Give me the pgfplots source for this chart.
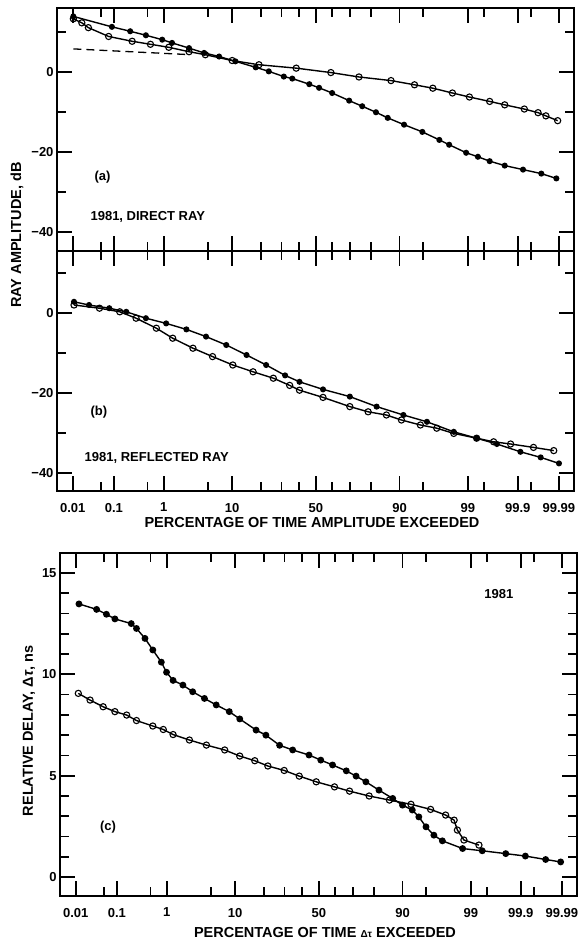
\documentclass[border=0pt]{standalone}
\usepackage{pgfplots}
\pgfplotsset{compat=1.18}
\usepackage{pgfplotstable}
\usepackage{fontspec}
\setmainfont{Liberation Sans}

\newcommand\tickfont{\fontsize{13bp}{15bp}\selectfont\bfseries}
\newcommand\annfont{\fontsize{13bp}{15bp}\selectfont\bfseries}
\newcommand\labfont{\fontsize{14.5bp}{17bp}\selectfont\bfseries}

\pgfplotstableread{
x y
-3.71 13.8
-3.12 11.2
-2.84 10.1
-2.60 9.1
-2.35 8.0
-2.20 7.2
-1.94 5.9
-1.71 4.7
-1.48 3.8
-1.23 2.6
-0.92 1.1
-0.72 0.1
-0.49 -1.2
-0.36 -1.7
-0.10 -3.1
0.05 -4.0
0.25 -5.3
0.51 -7.2
0.71 -8.6
0.92 -10.1
1.10 -11.5
1.35 -13.2
1.63 -15.0
1.89 -17.0
2.04 -18.2
2.30 -20.2
2.48 -21.2
2.66 -22.3
2.89 -23.4
3.17 -24.4
3.45 -25.4
3.68 -26.6
}\aFilled

\pgfplotstableread{
x y
-3.71 13.2
-3.58 12.2
-3.48 11.0
-3.17 8.8
-2.81 7.6
-2.53 6.85
-2.25 6.1
-1.94 5.0
-1.69 4.25
-1.28 2.8
-0.87 1.75
-0.30 0.9
0.23 -0.2
0.66 -1.3
1.15 -2.2
1.51 -3.25
1.79 -4.1
2.09 -5.3
2.35 -6.3
2.66 -7.4
2.89 -8.25
3.19 -9.3
3.40 -10.2
3.52 -11.0
3.70 -12.2
}\aOpen

\pgfplotstableread{
x y
-3.70 2.8
-3.47 2.0
-3.16 1.2
-2.90 0.3
-2.60 -1.3
-2.29 -2.6
-1.98 -4.1
-1.68 -5.9
-1.37 -8.0
-1.06 -10.5
-0.76 -13.0
-0.47 -15.6
-0.25 -17.2
0.11 -19.1
0.52 -20.9
0.93 -23.4
1.34 -25.5
1.70 -27.2
2.11 -29.7
2.46 -31.3
2.77 -32.75
3.13 -34.7
3.44 -36.1
3.72 -37.6
}\bFilled

\pgfplotstableread{
x y
-3.70 2.0
-3.31 1.2
-3.00 0.3
-2.75 -1.3
-2.44 -3.8
-2.19 -6.3
-1.88 -8.8
-1.58 -10.9
-1.27 -13.0
-0.96 -14.7
-0.65 -16.3
-0.40 -18.1
-0.25 -19.3
0.11 -21.1
0.52 -23.4
0.80 -24.7
1.08 -25.5
1.31 -26.75
1.60 -28.0
1.85 -28.8
2.11 -30.1
2.46 -31.3
2.72 -32.2
2.98 -32.75
3.33 -33.6
3.64 -34.4
}\bOpen

\pgfplotstableread{
x y
-3.67 13.47
-3.40 13.2
-3.25 12.96
-3.12 12.73
-2.87 12.5
-2.79 12.26
-2.66 11.77
-2.54 11.2
-2.41 10.6
-2.33 10.1
-2.23 9.7
-2.08 9.47
-1.93 9.14
-1.75 8.81
-1.57 8.49
-1.37 8.16
-1.21 7.8
-0.96 7.25
-0.81 7.0
-0.60 6.5
-0.40 6.27
-0.15 6.02
0.03 5.77
0.21 5.53
0.42 5.24
0.57 4.98
0.72 4.70
0.92 4.29
1.13 3.88
1.28 3.55
1.43 3.31
1.53 2.97
1.64 2.48
1.76 2.07
1.89 1.79
2.20 1.41
2.50 1.30
2.86 1.16
3.16 1.04
3.47 0.87
3.70 0.75
}\cFilled

\pgfplotstableread{
x y
-3.68 9.06
-3.50 8.73
-3.30 8.4
-3.12 8.16
-2.94 7.99
-2.79 7.72
-2.54 7.45
-2.38 7.28
-2.23 7.03
-1.98 6.76
-1.72 6.51
-1.44 6.27
-1.21 5.97
-0.98 5.74
-0.78 5.48
-0.53 5.26
-0.30 4.98
-0.04 4.70
0.24 4.45
0.47 4.24
0.77 4.0
1.08 3.80
1.41 3.59
1.71 3.34
1.94 3.06
2.07 2.81
2.12 2.32
2.22 1.83
2.45 1.58
}\cOpen

\pgfplotsset{
 panel/.style={
  scale only axis, width=517bp, anchor=north west,
  xmin=-3.96, xmax=3.95,
  xtick={-3.719,-3.090,-2.326,-1.2816,0,1.2816,2.326,3.090,3.719},
  minor xtick={-3.2905,-2.5758,-1.6449,-0.8416,-0.5244,-0.2533,0.2533,0.5244,0.8416,1.6449,2.5758,3.2905},
  xticklabels={0.01,0.1,1,10,50,90,99,99.9,99.99},
  major tick length=15bp, minor tick length=9bp,
  every tick/.style={line width=1.8bp, black},
  axis line style={line width=1.9bp},
  tick label style={font=\tickfont},
  xticklabel style={yshift=-8.5bp},
 },
 filled/.style={black, line width=1.4bp, mark=*, mark size=2.3bp},
 open/.style={black, line width=1.4bp, mark=o, mark size=3.1bp, mark options={fill=white, line width=1.1bp}},
}

\begin{document}
\begin{tikzpicture}
\useasboundingbox (0,0) rectangle (582bp,-943bp);

% (a)
\begin{axis}[panel, at={(57bp,-8bp)}, height=243bp,
  ymin=-44.7, ymax=15.9,
  ytick={-40,-20,0}, yticklabels={−40,−20,0},
  minor ytick={-30,-10,10},
  xticklabels={}]
\addplot[black, line width=1.3bp, dash pattern=on 8bp off 5bp] coordinates {(-3.71,5.7) (-1.97,4.3)};
\addplot[filled] table {\aFilled};
\addplot[open] table {\aOpen};
\node[anchor=west, font=\annfont] at (axis cs:-3.44,-26.25) {(a)};
\node[anchor=west, font=\annfont] at (axis cs:-3.50,-36.25) {1981, DIRECT RAY};
\end{axis}

% (b)
\begin{axis}[panel, at={(57bp,-251bp)}, height=240bp,
  ymin=-44.5, ymax=15.5,
  ytick={-40,-20,0}, yticklabels={−40,−20,0},
  minor ytick={-30,-10,10}]
\addplot[filled] table {\bFilled};
\addplot[open] table {\bOpen};
\node[anchor=west, font=\annfont] at (axis cs:-3.50,-24.75) {(b)};
\node[anchor=west, font=\annfont] at (axis cs:-3.59,-36.25) {1981, REFLECTED RAY};
\end{axis}

% (c)
\begin{axis}[panel, at={(60bp,-553bp)}, height=343bp,
  ymin=-0.93, ymax=15.98,
  ytick={0,5,10,15}, yticklabels={0,5,10,15},
  minor ytick={1,2,3,4,6,7,8,9,11,12,13,14}]
\addplot[filled, mark size=2.7bp] table {\cFilled};
\addplot[open] table {\cOpen};
\node[anchor=west, font=\annfont] at (axis cs:-3.40,2.47) {(c)};
\node[anchor=west, font=\annfont] at (axis cs:2.48,13.96) {1981};
\end{axis}

\node[font=\labfont, rotate=90] at (17bp,-235bp) {RAY AMPLITUDE, dB};
\node[font=\labfont] at (312bp,-523bp) {PERCENTAGE OF TIME AMPLITUDE EXCEEDED};
\node[font=\labfont] at (325bp,-932bp) {PERCENTAGE OF TIME {\fontsize{10bp}{12bp}\selectfont Δτ} EXCEEDED};
\node[font=\labfont, rotate=90] at (29bp,-731bp) {RELATIVE DELAY, Δ\textit{τ}, ns};
\end{tikzpicture}
\end{document}
